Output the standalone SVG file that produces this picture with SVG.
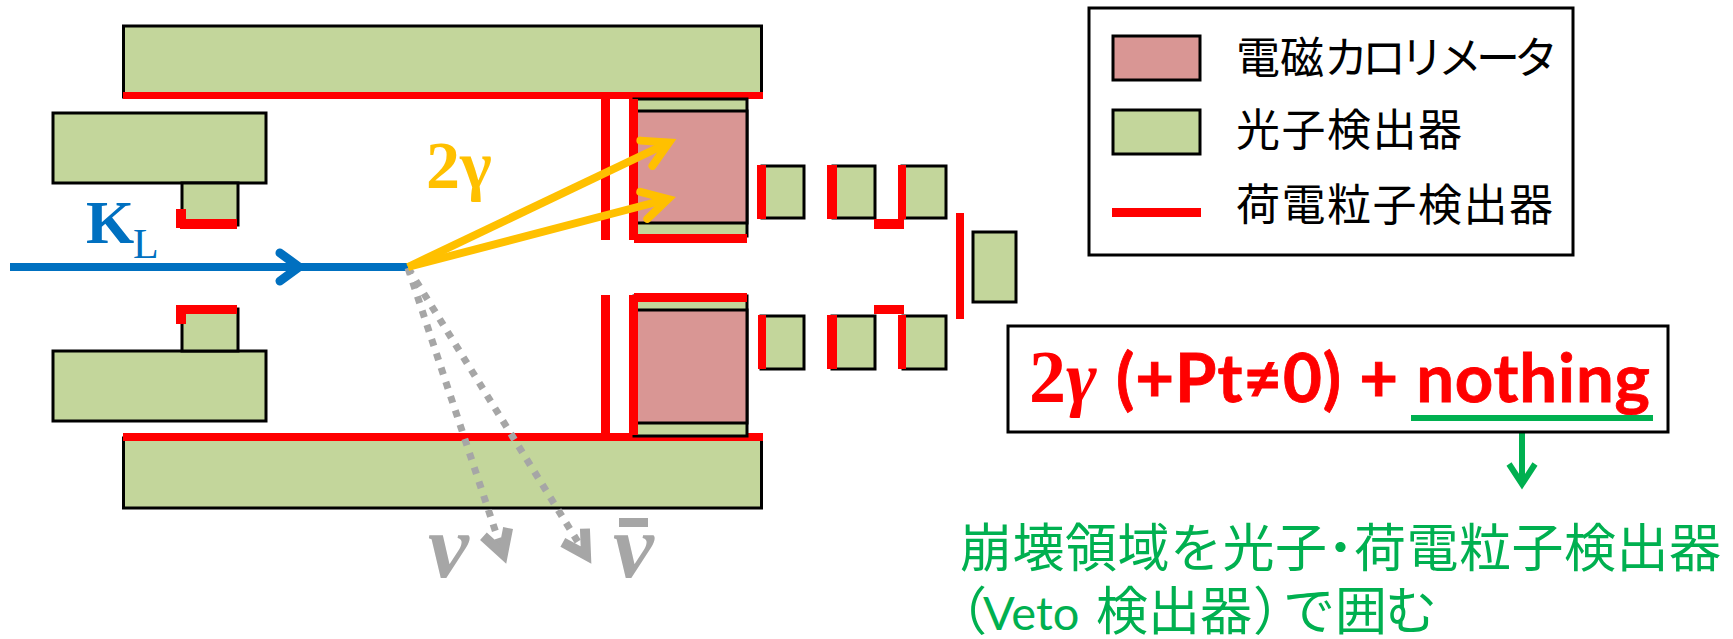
<svg xmlns="http://www.w3.org/2000/svg" width="1733" height="639" viewBox="0 0 1733 639">
<style>
.g{fill:#C3D69B;stroke:#000;stroke-width:3}
.p{fill:#D99694;stroke:#000;stroke-width:3}
.r{fill:#FF0000;stroke:none}
.box{fill:#fff;stroke:#000;stroke-width:3}
.lg{font-family:"Noto Sans CJK JP",sans-serif;font-size:44px;fill:#000}
.gt{font-family:"Noto Sans CJK JP",sans-serif;font-size:52px;fill:#00B050}
.se{font-family:"Liberation Serif",serif;font-weight:700}
.nu{font-family:"Liberation Serif",serif;font-weight:700;font-style:italic;font-size:92px;fill:#A6A6A6}
.ln{fill:none;stroke-linecap:butt}
</style>
<defs>
<marker id="hb" markerUnits="userSpaceOnUse" markerWidth="60" markerHeight="60" refX="30" refY="30" orient="auto"><path d="M11,16 L30,30 L11,44" fill="none" stroke="#0070C0" stroke-width="9" stroke-linecap="round"/></marker>
<marker id="hy" markerUnits="userSpaceOnUse" markerWidth="80" markerHeight="80" refX="40" refY="40" orient="auto"><path d="M15,26 L40,40 L15,54" fill="none" stroke="#FFC000" stroke-width="8" stroke-linecap="round"/></marker>
<marker id="hg" markerUnits="userSpaceOnUse" markerWidth="80" markerHeight="80" refX="40" refY="40" orient="auto"><path d="M17,27 L40,40 L17,53" fill="none" stroke="#A6A6A6" stroke-width="10"/></marker>
<marker id="hn" markerUnits="userSpaceOnUse" markerWidth="60" markerHeight="60" refX="30" refY="30" orient="auto"><path d="M10,17 L30,30 L10,43" fill="none" stroke="#00B050" stroke-width="6"/></marker>
</defs>
<rect width="1733" height="639" fill="#fff"/>
<g id="top-veto"><rect class="g" x="123.500" y="26" width="638" height="71"/><rect class="r" x="123" y="92" width="640" height="7"/></g>
<g id="bottom-veto"><rect class="g" x="123.500" y="438" width="638" height="70"/><rect class="r" x="123" y="433" width="640" height="8"/></g>
<g id="upstream-upper"><rect class="g" x="53" y="113" width="213" height="70"/><rect class="g" x="182" y="183" width="56" height="42"/><rect class="r" x="176" y="209" width="10" height="19"/><rect class="r" x="180" y="219" width="57" height="10"/></g>
<g id="upstream-lower"><rect class="g" x="53" y="351" width="213" height="70"/><rect class="g" x="182" y="309" width="56" height="42"/><rect class="r" x="176" y="305" width="10" height="19"/><rect class="r" x="176" y="305" width="61" height="9"/></g>
<g id="calorimeter-upper"><rect class="g" x="634" y="99" width="113" height="137"/><rect class="p" x="634" y="111" width="113" height="112"/><rect class="r" x="601" y="99" width="9" height="141"/><rect class="r" x="629" y="99" width="9" height="141"/><rect class="r" x="634" y="234" width="113" height="9"/></g>
<g id="calorimeter-lower"><rect class="g" x="634" y="296" width="113" height="140"/><rect class="p" x="634" y="310" width="113" height="113"/><rect class="r" x="601" y="295" width="9" height="140"/><rect class="r" x="629" y="295" width="9" height="140"/><rect class="r" x="634" y="293" width="113" height="9"/></g>
<g id="csi-u1"><rect class="g" x="762" y="166" width="42" height="52"/><rect class="r" x="757" y="165" width="9" height="54"/></g>
<g id="csi-u2"><rect class="g" x="833" y="166" width="42" height="52"/><rect class="r" x="827" y="165" width="10" height="54"/></g>
<g id="csi-u3"><rect class="g" x="902" y="166" width="44" height="52"/><rect class="r" x="898" y="165" width="8" height="54"/></g>
<g id="csi-ubridge"><rect class="r" x="874" y="219" width="30" height="10"/></g>
<g id="csi-l1"><rect class="g" x="761" y="316" width="43" height="53"/><rect class="r" x="758" y="315" width="8" height="54"/></g>
<g id="csi-l2"><rect class="g" x="832" y="316" width="43" height="53"/><rect class="r" x="827" y="315" width="10" height="54"/></g>
<g id="csi-l3"><rect class="g" x="903" y="316" width="43" height="53"/><rect class="r" x="898" y="315" width="8" height="54"/></g>
<g id="csi-lbridge"><rect class="r" x="874" y="305" width="30" height="9"/></g>
<g id="end-veto"><rect class="g" x="973" y="232" width="43" height="70"/><rect class="r" x="956" y="213" width="8" height="106"/></g>
<g id="connectors">
<path class="ln" d="M10,267 H408" stroke="#0070C0" stroke-width="8"/>
<path class="ln" d="M275,267 H299" stroke="#0070C0" stroke-width="8" marker-end="url(#hb)"/>
<path class="ln" d="M408,268 L503,554" stroke="#A6A6A6" stroke-width="7" stroke-dasharray="7 8" marker-end="url(#hg)"/>
<path class="ln" d="M408,268 L586,555" stroke="#A6A6A6" stroke-width="7" stroke-dasharray="7 8" marker-end="url(#hg)"/>
<path class="ln" d="M408,267 L669,142.500" stroke="#FFC000" stroke-width="8" marker-end="url(#hy)"/>
<path class="ln" d="M408,267 L668,199" stroke="#FFC000" stroke-width="8" marker-end="url(#hy)"/>
<path class="ln" d="M1522,428 V484" stroke="#00B050" stroke-width="6" marker-end="url(#hn)"/>
</g>
<g id="labels">
<text class="se" x="86" y="243" font-size="62" fill="#0070C0">K</text>
<text class="se" x="133" y="258" font-size="42" fill="#0070C0" style="font-weight:400">L</text>
<text class="se" x="426" y="188" font-size="68" fill="#FFC000">2γ</text>
<text class="nu" x="428" y="577">ν</text>
<text class="nu" x="613" y="577">ν</text>
<rect x="619" y="518" width="29" height="9" fill="#A6A6A6"/>
</g>
<g id="legend">
<rect class="box" x="1089" y="8" width="484" height="247"/>
<rect class="p" x="1113" y="36" width="87" height="44"/>
<rect class="g" x="1113" y="110" width="87" height="44"/>
<rect class="r" x="1112" y="208" width="89" height="9"/>
<text class="lg" x="1236" y="74">電磁<tspan letter-spacing="-6">カロリメータ</tspan></text>
<text class="lg" x="1236" y="146" letter-spacing="1.5">光子検出器</text>
<text class="lg" x="1236" y="221" letter-spacing="1.5">荷電粒子検出器</text>
</g>
<g id="result">
<rect class="box" x="1008" y="326" width="660" height="106"/>
<text x="1029" y="402" class="se" font-size="74" fill="#FF0000">2<tspan font-style="italic">γ</tspan></text>
<text x="1116" y="402" font-family="Lato, sans-serif" font-weight="700" font-size="67" fill="#FF0000" stroke="#FF0000" stroke-width="0.8" textLength="534">(+Pt≠0) + nothing</text>
<rect x="1411" y="415" width="242" height="6" fill="#00B050"/>
</g>
<g id="note">
<text class="gt" x="960" y="567" letter-spacing="0.5">崩壊領域を光子<tspan font-weight="700">･</tspan>荷電粒子検出器</text>
<text class="gt" y="630"><tspan x="935">（</tspan><tspan x="983" font-family="Lato, sans-serif" font-size="47">Veto</tspan><tspan x="1096">検出器</tspan><tspan x="1253">）</tspan><tspan x="1283 1335 1385">で囲む</tspan></text>
</g>
</svg>
